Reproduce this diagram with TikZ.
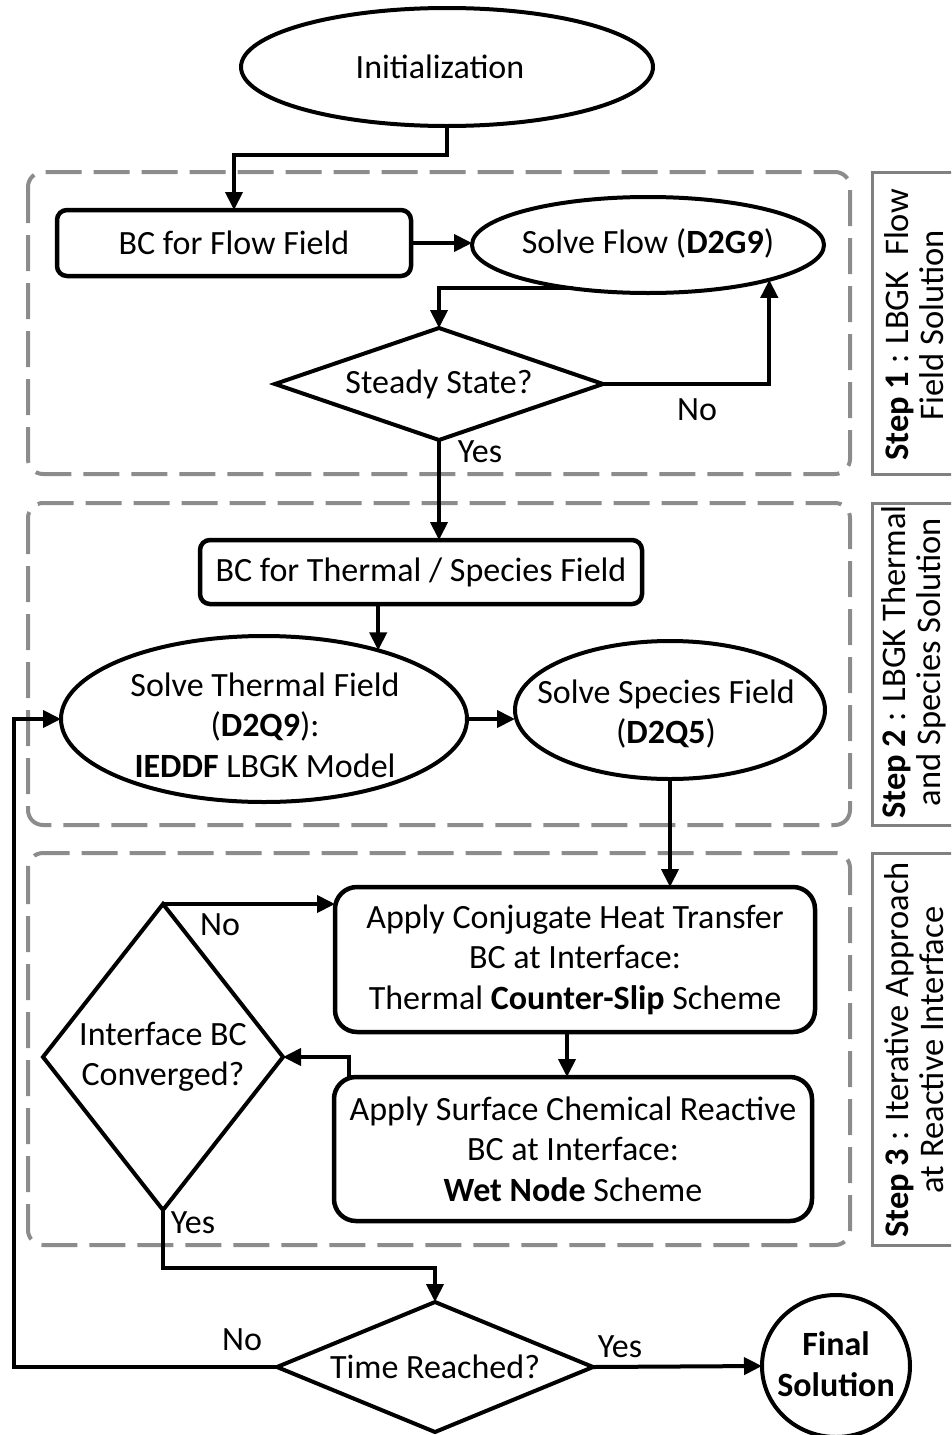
\documentclass[tikz,border=0pt]{standalone}
\usepackage{fontspec}
\setmainfont{Carlito}
\usetikzlibrary{shapes.geometric,arrows.meta}
\definecolor{dashgray}{HTML}{8C8C8C}
\definecolor{sidegray}{HTML}{808080}
\begin{document}
\begin{tikzpicture}[x=1pt,y=-1pt,
  txt/.style={font=\fontsize{34}{40.5}\selectfont, align=center, inner sep=0pt},
  sidetxt/.style={font=\fontsize{34.5}{35}\selectfont, align=center, inner sep=0pt, rotate=90},
  oval/.style={ellipse, draw, line width=4pt, inner sep=0pt, outer sep=0pt},
  rbox/.style={rectangle, draw, line width=4.5pt, rounded corners=10pt, inner sep=0pt, outer sep=0pt, font=\fontsize{34}{40.5}\selectfont, align=center},
  bigbox/.style={rbox, rounded corners=22pt},
  dec/.style={diamond, draw, line width=4pt, inner sep=0pt, outer sep=0pt, font=\fontsize{34}{40.5}\selectfont, align=center},
  arr/.style={line width=4pt, -{Triangle[length=18pt,width=17pt]}},
  stepframe/.style={draw=dashgray, line width=4pt, dash pattern=on 36pt off 12pt, rounded corners=15pt},
  sideframe/.style={draw=sidegray, line width=3pt}
]
\clip (0,0) rectangle (951,1435);

% frames
\draw[stepframe] (28,172) rectangle (850,474);
\draw[stepframe] (28,503) rectangle (850,825);
\draw[stepframe] (28,853) rectangle (850,1245);
\draw[sideframe] (872,172) rectangle (965,474);
\draw[sideframe] (872,503) rectangle (965,825);
\draw[sideframe] (872,853) rectangle (965,1245);
\node[sidetxt] (s1) at (914,325) {\textbf{Step 1} : LBGK\ \ Flow\\Field Solution};
\node[sidetxt] (s2) at (914,662) {\textbf{Step 2} : LBGK Thermal\\and Species Solution};
\node[sidetxt] (s3) at (914,1050) {\textbf{Step 3} : Iterative Approach\\at Reactive Interface};

% nodes
\node[oval, minimum width=412pt, minimum height=118pt] (init) at (447,67) {};
\node[txt] (initT) at (440,67) {Initialization};

\node[rbox, minimum width=354pt, minimum height=66pt] (bcf) at (234,243) {BC for Flow Field};

\node[oval, minimum width=352pt, minimum height=96pt] (flow) at (648,245) {};
\node[txt] (flowT) at (648,243) {Solve Flow (\textbf{D2G9})};

\node[dec, aspect=2.93, minimum width=328pt, minimum height=112pt] (steady) at (439,384) {Steady State?};

\node[rbox, minimum width=442pt, minimum height=64pt] (bct) at (421,572) {BC for Thermal / Species Field};

\node[oval, minimum width=406pt, minimum height=166pt] (thermal) at (264,719) {};
\node[txt] (thermalT) at (265,725) {Solve Thermal Field\\(\textbf{D2Q9}):\\\textbf{IEDDF} LBGK Model};

\node[oval, minimum width=310pt, minimum height=138pt] (species) at (670,710) {};
\node[txt] (speciesT) at (666,714) {Solve Species Field\\(\textbf{D2Q5})};

\node[bigbox, minimum width=480pt, minimum height=145pt] (conj) at (575,959.5) {Apply Conjugate Heat Transfer\\BC at Interface:\\Thermal \textbf{Counter-Slip} Scheme};

\node[bigbox, minimum width=478pt, minimum height=144pt] (surf) at (573,1149) {Apply Surface Chemical Reactive\\BC at Interface:\\\textbf{Wet Node} Scheme};

\node[dec, aspect=0.78, minimum width=240pt, minimum height=306pt] (iface) at (163,1057) {Interface BC\\Converged?};

\node[dec, aspect=2.43, minimum width=316pt, minimum height=130pt] (timer) at (435,1367) {Time Reached?};

\node[oval, minimum width=148pt, minimum height=142pt] (final) at (836,1366) {};
\node[txt] (finalT) at (836,1364) {\textbf{Final}\\\textbf{Solution}};

% connectors
\draw[arr] (init.south) -- ++(0,29) -| (bcf.north);
\draw[arr] (bcf.east) -- (bcf.east -| flow.west);
\draw[arr] (flow.210) -| (steady.north);
\draw[arr] (steady.east) -| (flow.344);
\draw[arr] (steady.south) -- (steady.south |- bct.north);
\coordinate (c0) at (bct.south -| thermal.31);
\draw[arr] (c0) -- (thermal.31);
\draw[arr] (thermal.east) -- (thermal.east -| species.west);
\draw[arr] (species.south) -- (species.south |- conj.north);
\coordinate (c1) at ([xshift=-8pt]conj.south);
\draw[arr] (c1) -- (c1 |- surf.north);
\coordinate (c2) at ([xshift=15pt]surf.north west);
\draw[arr] (c2) |- (iface.east);
\draw[arr] (iface.north) -- (iface.north -| conj.west);
\draw[arr] (iface.south) -- ++(0,58) -| (timer.north);
\draw[arr] (timer.west) -- ++(-263,0) |- (thermal.west);
\draw[arr] (timer.east) -- (final.west);

% labels
\node[txt] (l1) at (697,410) {No};
\node[txt] (l2) at (480,452) {Yes};
\node[txt] (l3) at (220,925) {No};
\node[txt] (l4) at (193,1223) {Yes};
\node[txt] (l5) at (242,1340) {No};
\node[txt] (l6) at (620,1347) {Yes};
\end{tikzpicture}
\end{document}
